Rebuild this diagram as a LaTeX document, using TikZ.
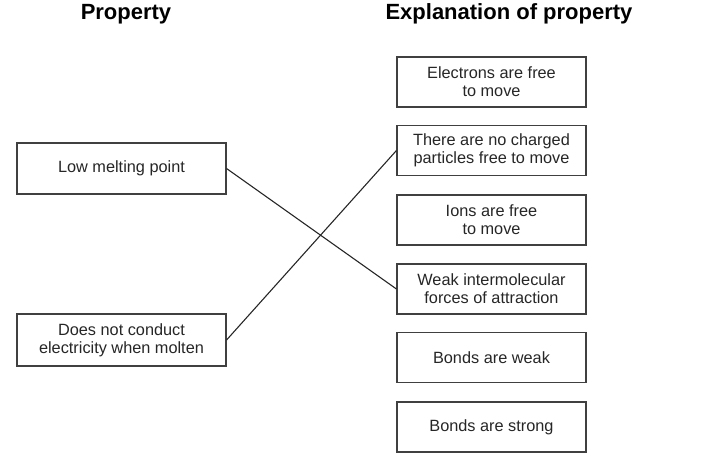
\documentclass[tikz,border=0pt]{standalone}
\usepackage{fontspec}
\setmainfont{Liberation Sans}
\begin{document}
\begin{tikzpicture}[x=1pt,y=-1pt,
  hdr/.style={font=\fontsize{22}{24}\selectfont\bfseries, text=black, inner sep=0pt},
  lbox/.style={draw=black!75, line width=1.1pt, minimum width=209pt, minimum height=51pt, inner sep=0pt, align=center, text=black!85, font=\fontsize{16.3}{18}\selectfont},
  rbox/.style={lbox, minimum width=189pt, minimum height=50pt},
  link/.style={draw=black!85, line width=1.1pt}]
\useasboundingbox (0,0) rectangle (712,469);
\node[hdr] (h1) at (126,14) {Property};
\node[hdr] (h2) at (509,14) {Explanation of property};
\node[lbox] (low) at (121.5,168.5) {Low melting point};
\node[lbox, minimum height=52pt] (cond) at (121.5,340) {Does not conduct\\electricity when molten};
\node[rbox] (r1) at (491.5,82) {Electrons are free\\to move};
\node[rbox] (r2) at (491.5,150.5) {There are no charged\\particles free to move};
\node[rbox] (r3) at (491.5,220) {Ions are free\\to move};
\node[rbox] (r4) at (491.5,289) {Weak intermolecular\\forces of attraction};
\node[rbox] (r5) at (491.5,357.5) {Bonds are weak};
\node[rbox] (r6) at (491.5,427) {Bonds are strong};
\draw[link] (low.east) -- (r4.west);
\draw[link] (cond.east) -- (r2.west);
\end{tikzpicture}
\end{document}
